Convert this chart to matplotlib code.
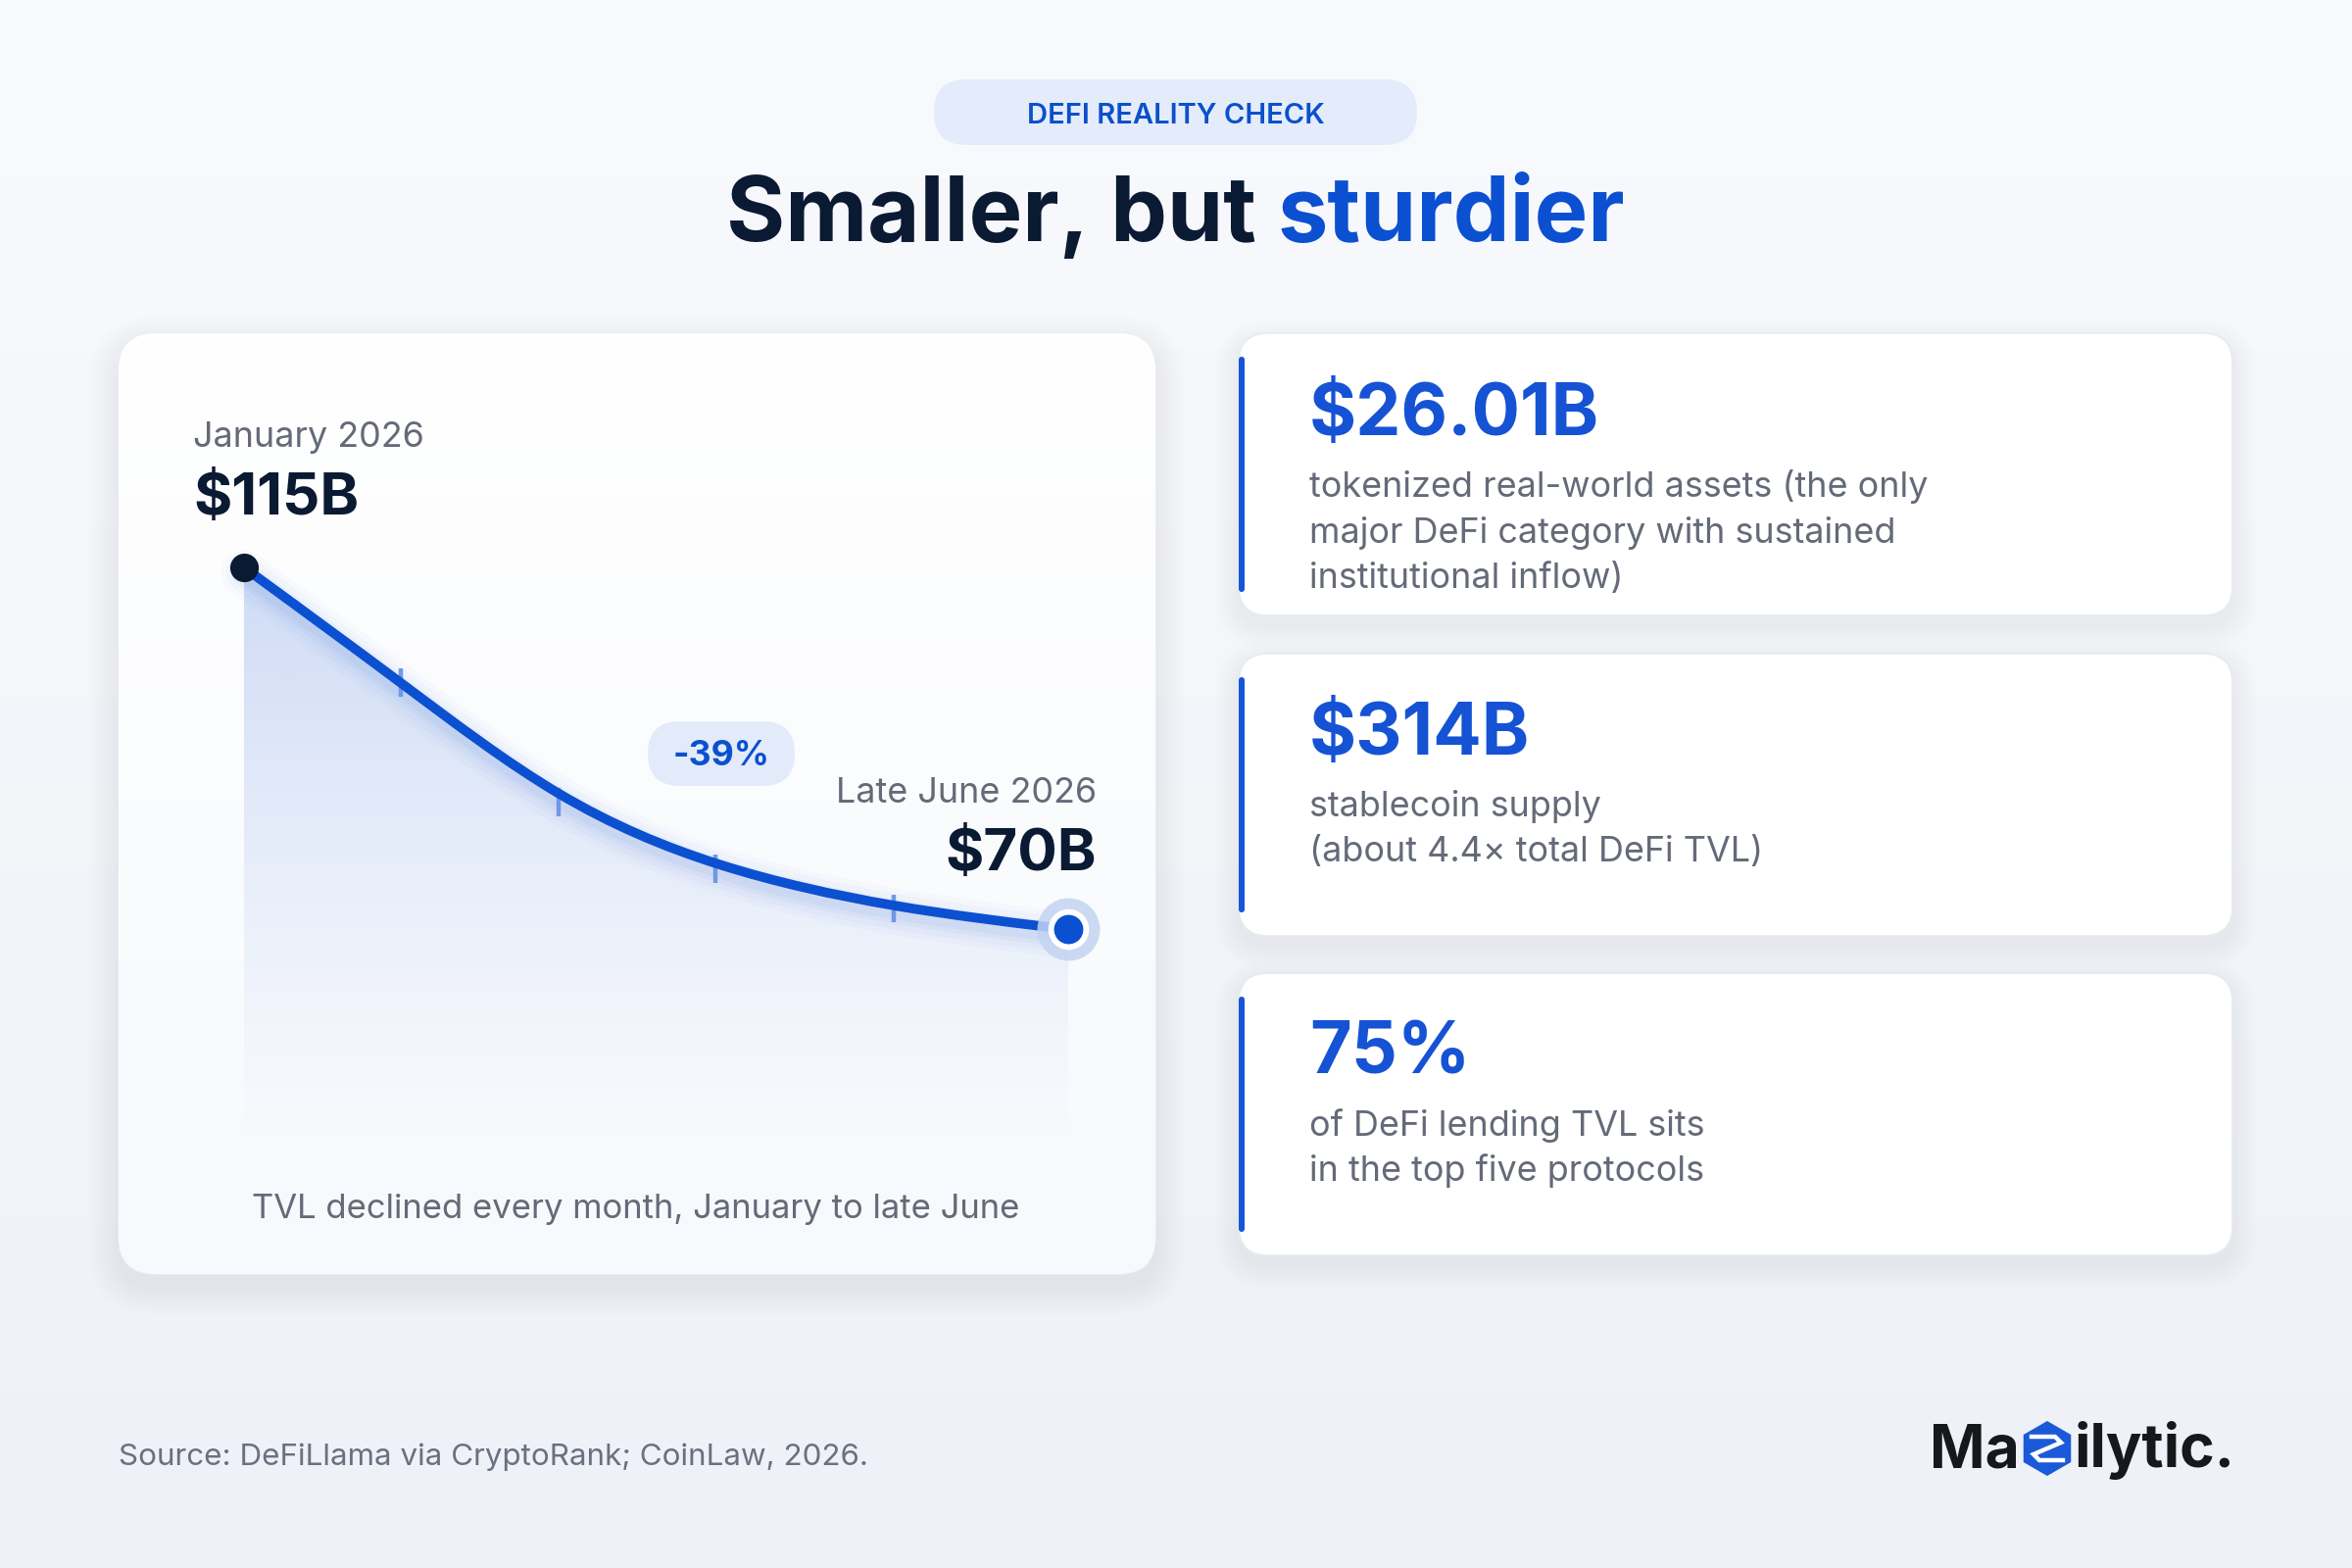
import numpy as np
import matplotlib
matplotlib.use('Agg')
import matplotlib.pyplot as plt
from matplotlib.patches import FancyBboxPatch, PathPatch, RegularPolygon
from matplotlib.path import Path
from matplotlib.colors import to_rgb
from matplotlib.font_manager import FontProperties
import matplotlib.transforms as mtransforms

# ---------------- data ----------------
months = ['Jan', 'Feb', 'Mar', 'Apr', 'May', 'Late Jun']
month_pos = [0, 1, 2, 3, 4.13, 5.24]          # time axis (months since Jan 2026)
tvl = [115, 100.7, 85.8, 77.5, 72.6, 70]       # DeFi TVL, $B
start_label = 'January 2026'
end_label = 'Late June 2026'
start_value = '$115B'
end_value = '$70B'
change_label = '-39%'
chart_caption = 'TVL declined every month, January to late June'
stat_values = ['$26.01B', '$314B', '75%']
stat_texts = [
    ['tokenized real-world assets (the only',
     'major DeFi category with sustained',
     'institutional inflow)'],
    ['stablecoin supply', '(about 4.4× total DeFi TVL)'],
    ['of DeFi lending TVL sits', 'in the top five protocols'],
]
badge_text = 'DEFI REALITY CHECK'
title_a = 'Smaller, but'
title_b = 'sturdier'
source_text = 'Source: DeFiLlama via CryptoRank; CoinLaw, 2026.'
logo_a = 'Ma'
logo_b = 'ilytic.'

# ---------------- style ----------------
FAM = ['Inter', 'DejaVu Sans']
plt.rcParams['font.family'] = FAM
navy = '#0b1a33'
blue = '#0b50d0'
gray = '#646a78'

W, H = 2400, 1600
fig = plt.figure(figsize=(24, 16), dpi=100)
r = fig.canvas.get_renderer()


def fit_size(s, target, weight='normal', base=30.0):
    prop = FontProperties(family=FAM, weight=weight, size=base)
    w, _, _ = r.get_text_width_height_descent(s, prop, ismath=False)
    return base * target / w


def text_w(s, size, weight='normal'):
    prop = FontProperties(family=FAM, weight=weight, size=size)
    w, _, _ = r.get_text_width_height_descent(s, prop, ismath=False)
    return w


def pixel_axes(zorder):
    a = fig.add_axes([0, 0, 1, 1], zorder=zorder)
    a.set_xlim(0, W)
    a.set_ylim(H, 0)
    a.axis('off')
    a.patch.set_alpha(0)
    return a


def vgrad(c_top, c_bot, n=256):
    t = np.linspace(0, 1, n)[:, None]
    a, b = np.array(to_rgb(c_top)), np.array(to_rgb(c_bot))
    return (a[None, :] * (1 - t) + b[None, :] * t)[:, None, :]


def shadow(ax, x, y, w, h, rad, n=14, spread=30, dy=12, alpha=0.0045):
    for i in range(n):
        p = spread * (i + 1) / n
        ax.add_patch(FancyBboxPatch((x - p, y - p + dy), w + 2 * p, h + 2 * p,
                                    boxstyle=f'round,pad=0,rounding_size={rad + p}',
                                    fc='#2a3c6e', ec='none', alpha=alpha, zorder=1))


# ---------------- background ----------------
bg = pixel_axes(0)
bg.imshow(vgrad('#f9fafd', '#eef1f7'), extent=[0, W, H, 0], aspect='auto', zorder=0)
bg.set_xlim(0, W)
bg.set_ylim(H, 0)

# badge
bg.add_patch(FancyBboxPatch((953, 81), 493, 67, boxstyle='round,pad=0,rounding_size=33',
                            fc='#e4ecfb', ec='none', zorder=2))

# left card
LX, LY, LW, LH = 121, 340, 1058, 960
shadow(bg, LX, LY, LW, LH, 38)
card = FancyBboxPatch((LX, LY), LW, LH, boxstyle='round,pad=0,rounding_size=38',
                      fc='white', ec='#eaeef5', lw=1.2, zorder=3)
bg.add_patch(card)
im = bg.imshow(vgrad('#ffffff', '#f7f9fd'), extent=[LX, LX + LW, LY + LH, LY],
               aspect='auto', zorder=3.1)
im.set_clip_path(card)

# right cards
RX, RW = 1264, 1014
card_tops = [340, 667, 993]
card_h = 288
for top in card_tops:
    shadow(bg, RX, top, RW, card_h, 30, n=12, spread=24, dy=10, alpha=0.0045)
    bg.add_patch(FancyBboxPatch((RX, top), RW, card_h, boxstyle='round,pad=0,rounding_size=30',
                                fc='white', ec='#e6eaf2', lw=1.2, zorder=3))
    bg.add_patch(FancyBboxPatch((RX, top + 24), 6, card_h - 48,
                                boxstyle='round,pad=0,rounding_size=3',
                                fc='#1656d6', ec='none', zorder=4))
bg.set_xlim(0, W)
bg.set_ylim(H, 0)

# ---------------- chart ----------------
px_left, px_right, px_top, px_bot = 249, 1090, 538, 1178
ymin, ymax = 42, 120
ax = fig.add_axes([px_left / W, 1 - px_bot / H, (px_right - px_left) / W, (px_bot - px_top) / H],
                  zorder=1)
ax.patch.set_alpha(0)
ax.axis('off')

# smooth B-spline path (same construction as a "basis" curve) through the data
P = np.column_stack([month_pos, tvl]).astype(float)
verts = [P[0], (5 * P[0] + P[1]) / 6]
codes = [Path.MOVETO, Path.LINETO]
for i in range(2, len(P) + 1):
    a, b = P[i - 2], P[i - 1]
    c = P[i] if i < len(P) else P[-1]
    verts += [(2 * a + b) / 3, (a + 2 * b) / 3, (a + 4 * b + c) / 6]
    codes += [Path.CURVE4] * 3
verts.append(P[-1])
codes.append(Path.LINETO)
line_path = Path(verts, codes)
fill_path = Path(verts + [(P[-1, 0], ymin), (P[0, 0], ymin), P[0]],
                 codes + [Path.LINETO, Path.LINETO, Path.CLOSEPOLY])

# gradient area fill
vals = np.linspace(ymax, ymin, 300)[:, None]
alpha = np.clip((vals - ymin) / (115 - ymin), 0, 1) ** 1.2 * 0.22
rgba = np.zeros((300, 1, 4))
rgba[..., :3] = to_rgb('#2a64d6')
rgba[..., 3] = alpha
fim = ax.imshow(rgba, extent=[P[0, 0], P[-1, 0], ymin, ymax], aspect='auto', zorder=1,
                origin='upper')
fim.set_clip_path(PathPatch(fill_path, transform=ax.transData))

# glow below line
off = ax.transData + mtransforms.ScaledTranslation(0, -0.06, fig.dpi_scale_trans)
for lw, a in [(34, 0.025), (26, 0.03), (18, 0.04), (12, 0.05)]:
    ax.add_patch(PathPatch(line_path, fill=False, ec='#2a64d6', lw=lw, alpha=a,
                           transform=off, capstyle='round', joinstyle='round', zorder=2,
                           clip_on=False))

# month ticks at the data values
for x, y in zip(month_pos[1:-1], tvl[1:-1]):
    ax.plot([x, x], [y - 1.75, y + 1.75], color='#6f99e4', lw=3.2, zorder=2.5,
            solid_capstyle='butt')

ax.add_patch(PathPatch(line_path, fill=False, ec=blue, lw=7, capstyle='round',
                       joinstyle='round', zorder=3, clip_on=False))

# end markers
ax.plot(month_pos[0], tvl[0], 'o', ms=20, color=navy, zorder=5, clip_on=False)
ax.plot(month_pos[-1], tvl[-1], 'o', ms=46, color='#c3d3f2', alpha=0.85, mec='none',
        zorder=5, clip_on=False)
ax.plot(month_pos[-1], tvl[-1], 'o', ms=30, color='white', mec='none', zorder=6, clip_on=False)
ax.plot(month_pos[-1], tvl[-1], 'o', ms=21.5, color=blue, mec='none', zorder=7, clip_on=False)
ax.set_xlim(P[0, 0], P[-1, 0])
ax.set_ylim(ymin, ymax)

# ---------------- foreground text ----------------
fg = pixel_axes(2)

# badge text
fg.text(1200, 126, badge_text, fontsize=21, weight='semibold', color='#0b50cc',
        ha='center', va='baseline')

# title
ts = fit_size(title_a + ' ' + title_b, 918, 'bold')
wfull = text_w(title_a + ' ' + title_b, ts, 'bold')
x0 = 1200 - wfull / 2
fg.text(x0, 246, title_a, fontsize=ts, weight='bold', color=navy, ha='left', va='baseline')
fg.text(x0 + wfull, 246, title_b, fontsize=ts, weight='bold', color=blue, ha='right',
        va='baseline')

# chart labels
s_lab = fit_size(start_label, 236)
s_big = fit_size(start_value, 169, 'bold')
fg.text(197, 456, start_label, fontsize=s_lab, color=gray, ha='left', va='baseline')
fg.text(197, 525, start_value, fontsize=s_big, weight='bold', color=navy, ha='left',
        va='baseline')
fg.text(1119, 819, end_label, fontsize=s_lab, color=gray, ha='right', va='baseline')
fg.text(1119, 888, end_value, fontsize=s_big, weight='bold', color=navy, ha='right',
        va='baseline')

fg.add_patch(FancyBboxPatch((661, 736), 150, 66, boxstyle='round,pad=0,rounding_size=33',
                            fc='#e3ebfa', ec='none', zorder=2))
fg.text(736, 781, change_label, fontsize=fit_size(change_label, 99, 'bold'), weight='bold',
        color=blue, ha='center', va='baseline', zorder=3)

fg.text(649, 1243, chart_caption, fontsize=fit_size(chart_caption, 785), color=gray,
        ha='center', va='baseline')

# stat cards
s_stat = fit_size(stat_values[0], 296, 'bold')
s_desc = fit_size(stat_texts[0][0], 631)
val_base = [444, 770, 1096]
line_base = [[507, 554, 600], [833, 879], [1159, 1205]]
for v, lines, vb, lbs in zip(stat_values, stat_texts, val_base, line_base):
    fg.text(1336, vb, v, fontsize=s_stat, weight='bold', color='#1553d4', ha='left',
            va='baseline')
    for ln, lb in zip(lines, lbs):
        fg.text(1336, lb, ln, fontsize=s_desc, color=gray, ha='left', va='baseline')

# source
fg.text(121, 1495, source_text, fontsize=fit_size(source_text, 765), color='#6b7080',
        ha='left', va='baseline')

# logo
s_logo = fit_size(logo_b, 164, 'bold')
fg.text(2281, 1497, logo_b, fontsize=s_logo, weight='bold', color='#17181c', ha='right',
        va='baseline')
icx, icy = 2089, 1478
fg.add_patch(RegularPolygon((icx, icy), 6, radius=28, orientation=0, fc='#1a5ad8', ec='none'))
fg.plot([icx - 16, icx + 8, icx + 14, icx - 14, icx - 8, icx + 16],
        [icy - 12, icy - 12, icy - 6, icy + 6, icy + 12, icy + 12],
        color='white', lw=3.2, solid_joinstyle='miter')
fg.text(icx - 28, 1497, logo_a, fontsize=s_logo, weight='bold', color='#17181c', ha='right',
        va='baseline')
fg.set_xlim(0, W)
fg.set_ylim(H, 0)

fig.savefig('out.png', dpi=100)
